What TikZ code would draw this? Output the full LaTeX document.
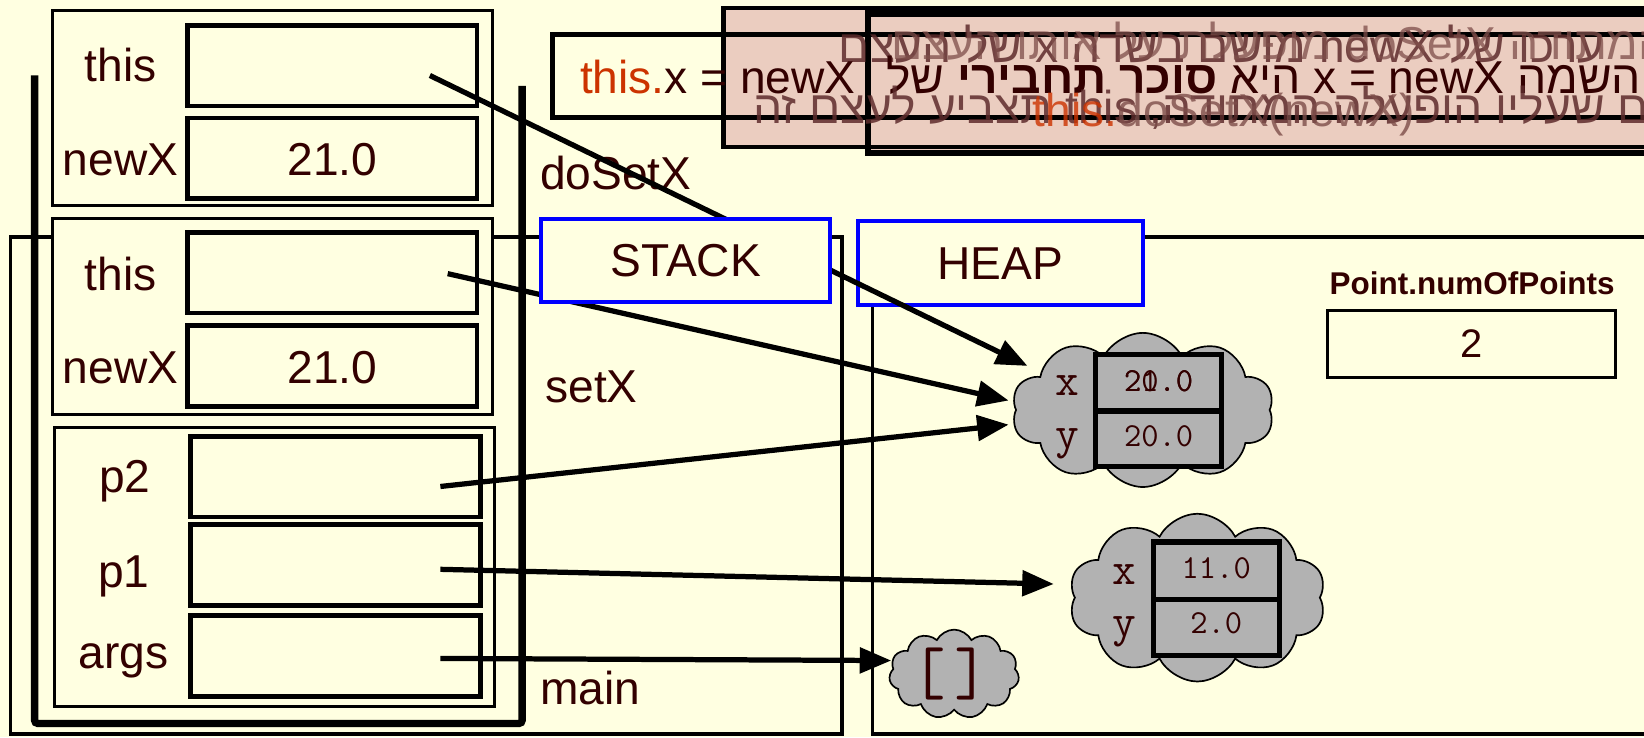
\documentclass[tikz,border=0pt]{standalone}
\usepackage{fontspec}
\setmainfont{Liberation Sans}
\newfontfamily\hebfont[Script=Hebrew]{Liberation Sans}
\TeXXeTstate=1
\usetikzlibrary{arrows.meta,shapes.symbols}
\definecolor{bg}{HTML}{FFFFE1}
\definecolor{ink}{HTML}{330000}
\definecolor{pinkbox}{HTML}{EBCDC0}
\definecolor{cloudgray}{HTML}{B2B2B2}
\definecolor{thisorange}{HTML}{CC3300}
\definecolor{fadeink}{HTML}{5E2C2C}
\definecolor{fadeinkb}{HTML}{7E4E4A}
\begin{document}
\begin{tikzpicture}[x=1pt,y=-1pt,
  frame/.style={draw=black,line width=3pt,fill=bg,inner sep=0pt,outer sep=0pt},
  slot/.style={draw=black,line width=4.5pt,fill=bg,inner sep=0pt,outer sep=0pt,
    minimum width=276pt,minimum height=77pt},
  lbl/.style={text=ink,font=\fontsize{44}{48}\selectfont,inner sep=0pt,anchor=base},
  val/.style={text=ink,font=\fontsize{44}{48}\selectfont,inner sep=0pt,anchor=base},
  tag/.style={text=ink,font=\fontsize{44}{48}\selectfont,inner sep=0pt,anchor=base west},
  area/.style={draw=black,line width=3pt},
  titlebox/.style={draw=blue,line width=4pt,fill=bg,inner sep=0pt,text=ink,
    font=\fontsize{44}{48}\selectfont},
  puff/.style={cloud,cloud puffs=10,cloud puff arc=125,cloud ignores aspect,
    draw=black,line width=1.6pt,fill=cloudgray,inner sep=0pt},
  cell/.style={draw=black,line width=5pt,fill=cloudgray,inner sep=0pt,
    minimum width=120pt,minimum height=54pt},
  mono/.style={text=ink,font=\ttfamily\fontsize{32}{34}\selectfont,inner sep=0pt},
  monolbl/.style={text=ink,font=\ttfamily\fontsize{44}{46}\selectfont,inner sep=0pt},
  ptr/.style={line width=5pt,-{Triangle[length=30pt,width=24pt]}},
  overlay/.style={inner sep=0pt,anchor=base west,font=\fontsize{44}{48}\selectfont}
]
\useasboundingbox (0,0) rectangle (1568,703);
\fill[bg] (0,0) rectangle (1568,703);

% big areas
\draw[area] (10,226) rectangle (803,700);
\draw[area] (832,226) rectangle (1680,700);

% thick U of the stack
\draw[line width=7pt,rounded corners=3pt] (33,72) -- (33,690) -- (498,690) -- (498,82);

% frames
\node[frame,minimum width=420pt,minimum height=186pt] (fdo) at (260,103) {};
\node[frame,minimum width=420pt,minimum height=187pt] (fset) at (260,301.5) {};
\node[frame,minimum width=420pt,minimum height=266pt] (fmain) at (262,541) {};

% doSetX frame
\node[slot] (dthis) at (317,62.5) {};
\node[slot] (dnew) at (317,151) {};
\node[lbl] (dthisl) at (115,78) {this};
\node[lbl] (dnewl) at (115,167) {newX};
\node[val] (dnewv) at (317,167) {21.0};
% setX frame
\node[slot] (sthis) at (317,260) {};
\node[slot] (snew) at (317,349) {};
\node[lbl] (sthisl) at (115,277) {this};
\node[lbl] (snewl) at (115,366) {newX};
\node[val] (snewv) at (317,366) {21.0};
% main frame
\node[slot] (mp2) at (320,454.5) {};
\node[slot] (mp1) at (320,539) {};
\node[slot] (margs) at (320,625.5) {};
\node[lbl] (mp2l) at (119,470) {p2};
\node[lbl] (mp1l) at (118,560) {p1};
\node[lbl] (margsl) at (118,638) {args};

% frame names
\node[tag] (ndo) at (515,181) {doSetX};
\node[tag] (nset) at (520,384) {setX};
\node[tag] (nmain) at (515,672) {main};

% static field
\node[text=ink,font=\bfseries\fontsize{30}{32}\selectfont,inner sep=0pt,anchor=base] (sfl) at (1404,281) {Point.numOfPoints};
\node[draw=black,line width=3pt,fill=bg,minimum width=275pt,minimum height=64pt,inner sep=0pt] (sfb) at (1403.5,328) {};
\node[text=ink,font=\fontsize{38}{40}\selectfont,inner sep=0pt,anchor=base] (sfv) at (1404,341) {2};

% object 1
\node[puff,minimum width=250pt,minimum height=147pt] (cl1) at (1090,391) {};
\node[cell] (c1x) at (1105,365) {};
\node[cell,minimum height=53pt] (c1y) at (1105,418.5) {};
\node[monolbl] (c1xl) at (1018,368) {x};
\node[monolbl] (c1yl) at (1018,423) {y};
\node[mono] (c1xv) at (1105,364) {20.0};
\node[mono] (c1xw) at (1105,364) {21.0};
\node[mono] (c1yv) at (1105,416) {20.0};

% object 2
\node[puff,minimum width=245pt,minimum height=160pt] (cl2) at (1142,570) {};
\node[cell,minimum height=55pt] (c2x) at (1160,544.5) {};
\node[cell,minimum height=53pt] (c2y) at (1160,598.5) {};
\node[monolbl] (c2xl) at (1072,548) {x};
\node[monolbl] (c2yl) at (1072,603) {y};
\node[mono] (c2xv) at (1160,542) {11.0};
\node[mono] (c2yv) at (1160,594) {2.0};

% array
\node[puff,cloud puffs=11,minimum width=124pt,minimum height=85pt] (cl3) at (910,643) {};
\node[text=ink,font=\ttfamily\fontsize{64}{66}\selectfont,inner sep=0pt] (arr) at (906,643) {[\kern8pt]};

% HEAP title
\node[titlebox,minimum width=272pt,minimum height=80pt] (heap) at (954,251) {HEAP};

% pointers
\coordinate (a1s) at (410,72);   \coordinate (a1e) at (980,349);
\coordinate (a2s) at (427,261);  \coordinate (a2e) at (962,382);
\coordinate (a3s) at (420,464);  \coordinate (a3e) at (962,405);
\coordinate (a4s) at (420,543);  \coordinate (a4e) at (1005,557);
\coordinate (a5s) at (420,628);  \coordinate (a5e) at (850,630);
\draw[ptr] (a1s) -- (a1e);
\draw[ptr] (a2s) -- (a2e);
\draw[ptr] (a3s) -- (a3e);
\draw[ptr] (a4s) -- (a4e);
\draw[ptr] (a5s) -- (a5e);

% STACK title
\node[titlebox,minimum width=276pt,minimum height=79pt] (stack) at (654,248.5) {STACK};

% overlapping explanation boxes
\fill[bg] (527,33) rectangle (1700,112);
\fill[pinkbox] (690,8) rectangle (1700,140);
\fill[pinkbox] (828,12) rectangle (1700,146);
\draw[line width=4pt] (690,8) rectangle (1700,140);
\draw[line width=6pt] (828,13) rectangle (1700,146);
\draw[line width=4pt] (527,33) rectangle (1700,112);

\node[overlay,text=fadeink,opacity=.85] (t1) at (800,60) {\hebfont\beginR ערכו של \beginL newX\endL{} מושם בשדה \beginL x\endL{} של העצם\endR};
\node[overlay,text=fadeinkb,opacity=.75] (t2) at (850,57) {\hebfont\beginR המתודה \beginL doSetX\endL{} מופעלת על אותו העצם\endR};
\node[overlay,text=ink] (m1) at (553,89) {\textcolor{thisorange}{this.}x = newX};
\node[overlay,text=ink] (m2) at (845,89) {\hebfont\beginR ההשמה \beginL x = newX\endL{} היא \textbf{סוכר תחבירי} של\endR};
\node[overlay,text=fadeink,opacity=.85] (b1) at (718,118) {\hebfont\beginR העצם שעליו הופעלה המתודה, \beginL this\endL{} תצביע לעצם זה\endR};
\node[overlay,text=fadeinkb,opacity=.8] (b2) at (985,121) {\textcolor{thisorange}{this.}doSetX(newX)};
\end{tikzpicture}
\end{document}
